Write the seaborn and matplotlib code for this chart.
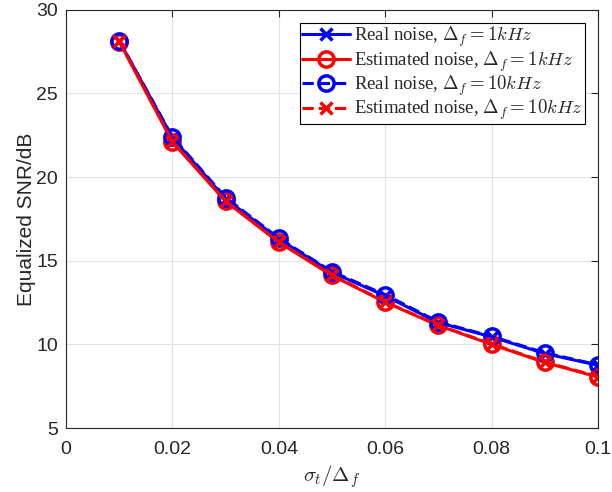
import matplotlib
matplotlib.use("Agg")
import matplotlib.pyplot as plt
import seaborn as sns
import pandas as pd

x = [0.01, 0.02, 0.03, 0.04, 0.05, 0.06, 0.07, 0.08, 0.09, 0.10]
real_1k = [28.15, 22.35, 18.70, 16.30, 14.30, 12.90, 11.30, 10.45, 9.45, 8.75]
est_1k = [28.10, 22.10, 18.55, 16.10, 14.12, 12.52, 11.13, 10.00, 8.92, 8.05]
real_10k = [28.15, 22.40, 18.78, 16.35, 14.35, 12.97, 11.35, 10.48, 9.50, 8.78]
est_10k = [28.12, 22.12, 18.58, 16.12, 14.15, 12.55, 11.15, 10.03, 8.95, 8.08]
labels = [r"Real noise, $\Delta_f = 1kHz$",
          r"Estimated noise, $\Delta_f = 1kHz$",
          r"Real noise, $\Delta_f = 10kHz$",
          r"Estimated noise, $\Delta_f = 10kHz$"]

sns.set_style("white")
plt.rcParams["font.family"] = ["Liberation Sans", "DejaVu Sans"]
plt.rcParams["mathtext.fontset"] = "cm"

fig = plt.figure(figsize=(6.12, 4.92), dpi=100)
ax = fig.add_axes([0.108, 0.130, 0.869, 0.850])

series = [real_1k, est_1k, real_10k, est_10k]
colors = ["#0000ff", "#ff0000", "#0000ff", "#ff0000"]
styles = ["-", "-", "--", "--"]
markers = ["x", "o", "o", "x"]
for ys, lab, c, ls, m in zip(series, labels, colors, styles, markers):
    df = pd.DataFrame({"x": x, "y": ys})
    sns.lineplot(data=df, x="x", y="y", ax=ax, color=c, linestyle=ls,
                 marker=m, markersize=11 if m == "o" else 9,
                 markerfacecolor="none", markeredgecolor=c,
                 markeredgewidth=2.5, linewidth=2.2, label=lab)

ax.set_xlim(0, 0.1)
ax.set_ylim(5, 30)
ax.set_xticks([0, 0.02, 0.04, 0.06, 0.08, 0.1])
ax.set_xticklabels(["0", "0.02", "0.04", "0.06", "0.08", "0.1"])
ax.set_yticks([5, 10, 15, 20, 25, 30])
ax.grid(True, color="#e3e3e3", linewidth=0.8)
ax.tick_params(direction="in", length=5, labelsize=14, colors="#262626", top=True, right=True)
ax.tick_params(axis="x", pad=9)
ax.tick_params(axis="y", pad=6)
for s in ax.spines.values():
    s.set_color("#262626")
    s.set_linewidth(0.8)
ax.set_xlabel(r"$\sigma_t/\Delta_f$", fontsize=15, color="#262626", labelpad=4)
ax.set_ylabel("Equalized SNR/dB", fontsize=15, color="#262626", labelpad=0)

leg = ax.legend(loc="upper right", prop={"family": "Liberation Serif", "size": 13.5},
                frameon=True, fancybox=False, edgecolor="black", framealpha=1,
                borderpad=0.1, labelspacing=0.0, handlelength=2.6, handletextpad=0.2,
                borderaxespad=0.7)
leg.get_frame().set_linewidth(0.8)

fig.savefig("out.png", dpi=100)
